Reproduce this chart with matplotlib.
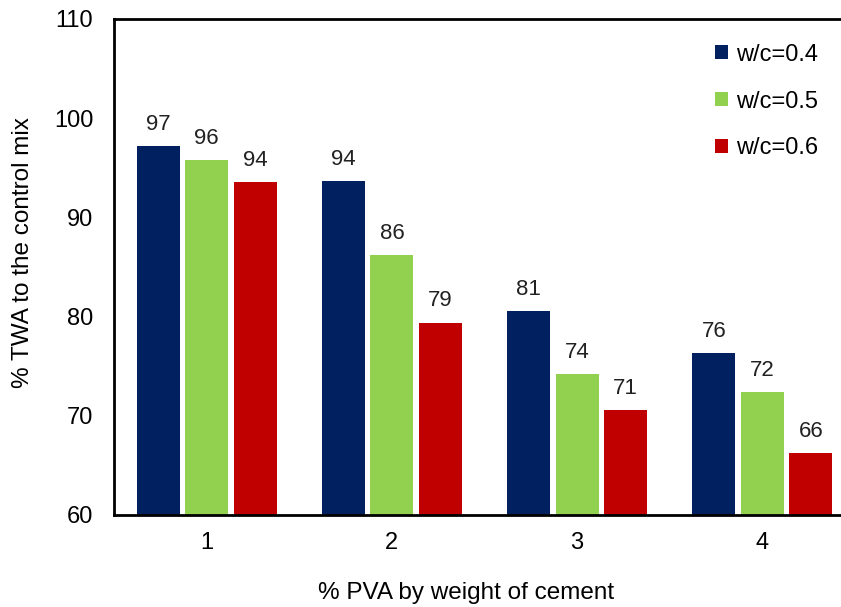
import numpy as np
import matplotlib
matplotlib.use("Agg")
import matplotlib.pyplot as plt

plt.rcParams['font.family'] = ['Liberation Sans', 'DejaVu Sans']

pva = ['1', '2', '3', '4']
series = ['w/c=0.4', 'w/c=0.5', 'w/c=0.6']
wc04 = [97.2, 93.7, 80.6, 76.3]
wc05 = [95.8, 86.2, 74.2, 72.4]
wc06 = [93.6, 79.4, 70.6, 66.2]
labels04 = [97, 94, 81, 76]
labels05 = [96, 86, 74, 72]
labels06 = [94, 79, 71, 66]
colors = ['#002060', '#92D050', '#C00000']

W, H = 841, 607
fig = plt.figure(figsize=(W / 100, H / 100), dpi=100)
ax = fig.add_axes([114 / W, (H - 515) / H, (855 - 114) / W, (515 - 19) / H])

x = np.arange(1, len(pva) + 1)
step = 0.262
width = 0.232
for i, (vals, labs) in enumerate(zip([wc04, wc05, wc06], [labels04, labels05, labels06])):
    pos = x + (i - 1) * step
    bars = ax.bar(pos, np.array(vals) - 60, width, bottom=60, color=colors[i],
                  label=series[i], zorder=2)
    for b, v, l in zip(bars, vals, labs):
        ax.annotate('%d' % l, (b.get_x() + b.get_width() / 2, v),
                    xytext=(0, 8), textcoords='offset points',
                    ha='center', va='bottom', fontsize=16, color='#222222')

ax.set_xlim(0.5, 4.5)
ax.set_ylim(60, 110)
ax.set_yticks([60, 70, 80, 90, 100, 110])
ax.set_xticks(x)
ax.set_xticklabels(pva)
ax.tick_params(length=0, labelsize=17, pad=12)
ax.tick_params(axis='y', pad=15)
for s in ['left', 'bottom', 'top']:
    ax.spines[s].set_linewidth(2)
ax.spines['right'].set_visible(False)

leg = ax.legend(loc='upper left', bbox_to_anchor=(0.782, 0.993), frameon=False,
                fontsize=17, handlelength=0.55, handleheight=0.55,
                handletextpad=0.35, labelspacing=1.05)

fig.text(466 / W, 1 - 593 / H, '% PVA by weight of cement', ha='center', va='center',
         fontsize=17.5)
fig.text(23 / W, 1 - 253 / H, '% TWA to the control mix', ha='center', va='center',
         rotation=90, fontsize=17.5)

fig.savefig('out.png', dpi=100)
